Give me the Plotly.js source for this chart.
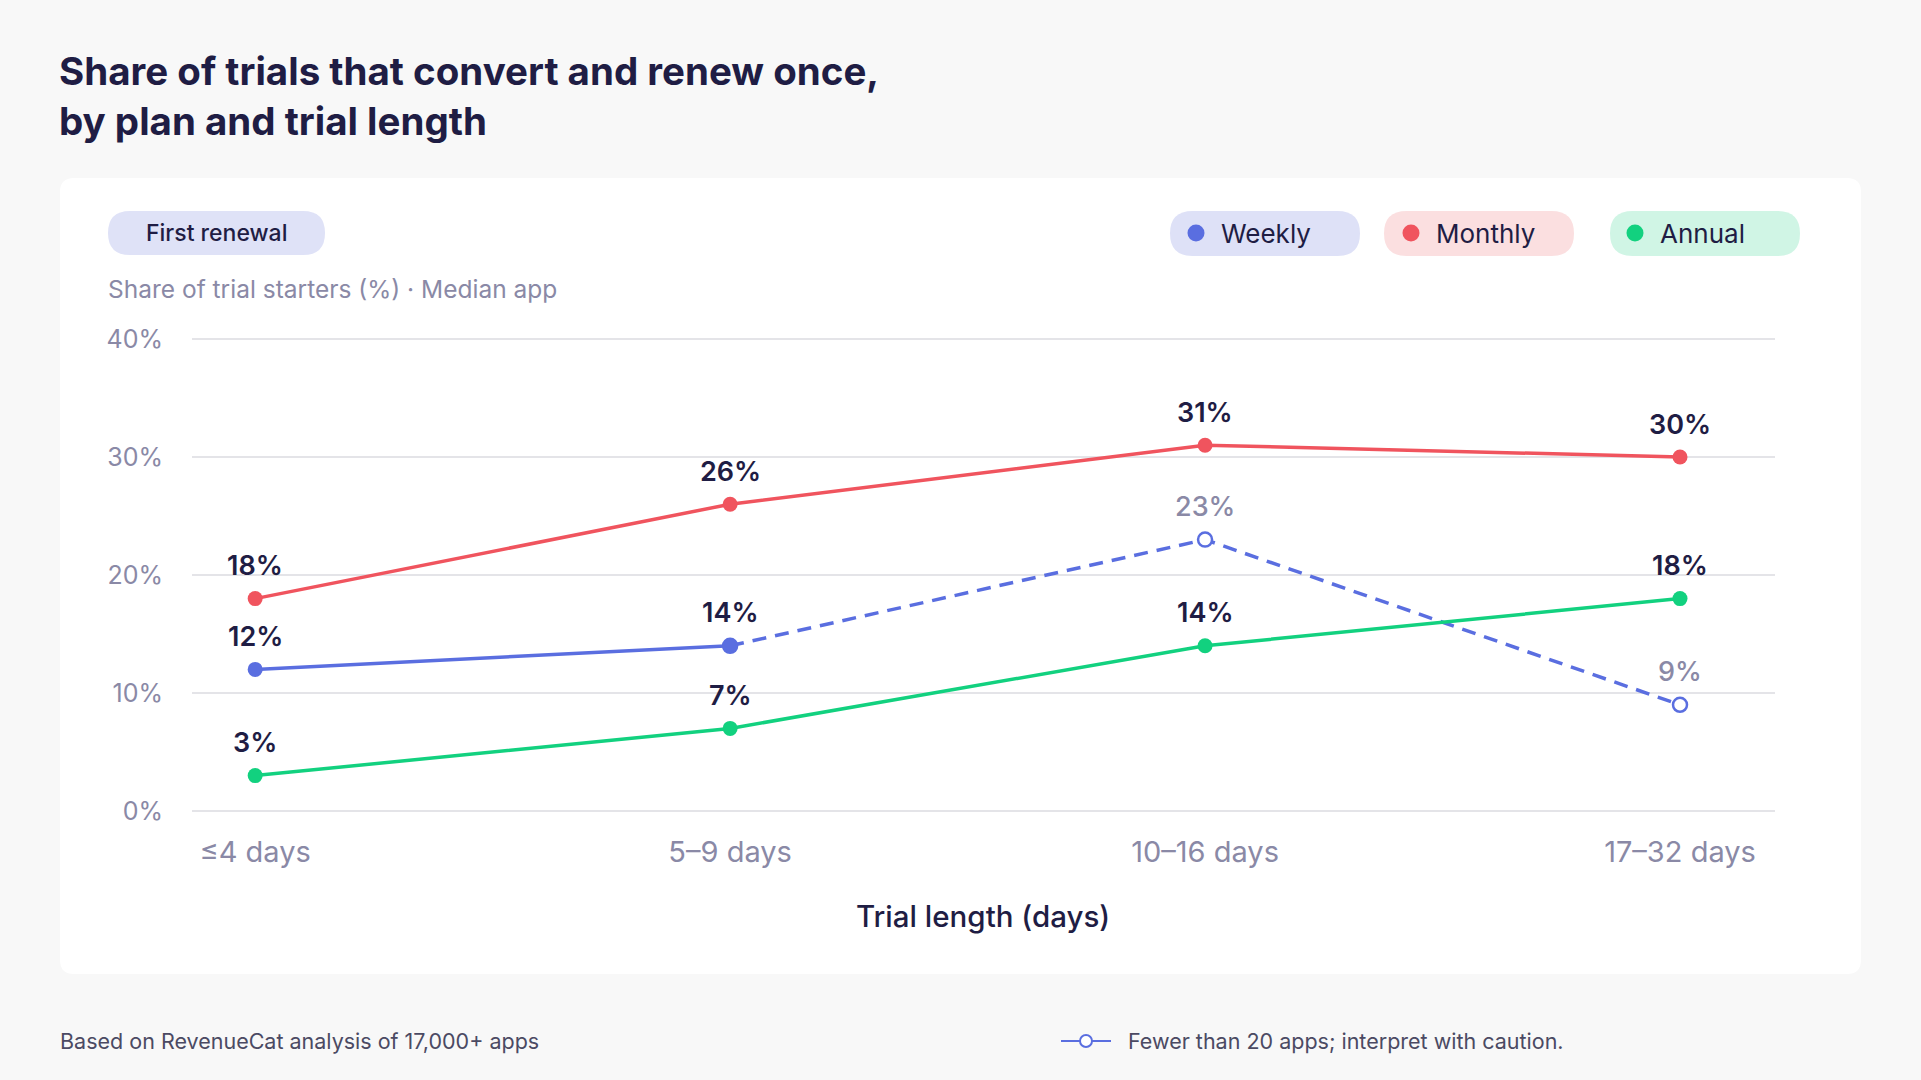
<!DOCTYPE html>
<html>
<head>
<meta charset="utf-8">
<script src="https://cdn.plot.ly/plotly-3.0.1.min.js"></script>
<style>
  html, body { margin: 0; padding: 0; background: #f8f8f8; }
  #chart { width: 1921px; height: 1080px; }
</style>
</head>
<body>
<div id="chart"></div>
<script>
// data
const trialLengths = ['≤4 days', '5–9 days', '10–16 days', '17–32 days'];
const monthly = [18, 26, 31, 30];
const annual = [3, 7, 14, 18];
const weekly = [12, 14, 23, 9];
// weekly points with fewer than 20 apps (drawn hollow + dashed)
const weeklyCaution = [false, false, true, true];
const yTicks = [0, 10, 20, 30, 40];
const yTickText = ['0%', '10%', '20%', '30%', '40%'];

const NAVY = '#1f1d44';
const GREY = '#8a89a6';
const C_WEEKLY = '#5a6ee0', C_MONTHLY = '#f0545e', C_ANNUAL = '#12d17f';
const FONT = 'Inter, "Noto Sans", sans-serif';

// plot area in pixels (a couple of px of slack top/bottom so the 0% and 40% gridlines get drawn)
const L = 192, R = 1775, T = 337, B = 813;
const px = X => (X - L) / (R - L);
const py = Y => (B - Y) / (B - T);

// rounded rectangle path in paper coords, given pixel box
function roundRect(x0, y0, x1, y1, r) {
  const p = (X, Y) => px(X) + ',' + py(Y);
  return 'M' + p(x0 + r, y0) + ' L' + p(x1 - r, y0) + ' Q' + p(x1, y0) + ' ' + p(x1, y0 + r) +
    ' L' + p(x1, y1 - r) + ' Q' + p(x1, y1) + ' ' + p(x1 - r, y1) +
    ' L' + p(x0 + r, y1) + ' Q' + p(x0, y1) + ' ' + p(x0, y1 - r) +
    ' L' + p(x0, y0 + r) + ' Q' + p(x0, y0) + ' ' + p(x0 + r, y0) + ' Z';
}
function pill(x0, y0, x1, y1, fill) {
  return { type: 'path', xref: 'paper', yref: 'paper', layer: 'below',
    path: roundRect(x0, y0, x1, y1, (y1 - y0) / 2), fillcolor: fill, line: { width: 0 } };
}
function dot(cx, cy, r, fill, lineColor, lw) {
  return { type: 'circle', xref: 'paper', yref: 'paper',
    x0: px(cx - r), x1: px(cx + r), y0: py(cy + r), y1: py(cy - r),
    fillcolor: fill, line: { color: lineColor || fill, width: lw || 0 } };
}

// weekly split into solid part and dashed caution part
const firstCaution = weeklyCaution.indexOf(true);
const wSolidX = trialLengths.slice(0, firstCaution);
const wSolidY = weekly.slice(0, firstCaution);
const wDashX = trialLengths.slice(firstCaution - 1);
const wDashY = weekly.slice(firstCaution - 1);
const wDashFill = weeklyCaution.slice(firstCaution - 1).map(c => c ? '#ffffff' : C_WEEKLY);

const traces = [
  { x: wDashX, y: wDashY, mode: 'lines+markers', line: { color: C_WEEKLY, width: 3.5, dash: '14px,9px' },
    marker: { size: 14, color: wDashFill, line: { color: C_WEEKLY, width: 2.5 } }, hoverinfo: 'skip' },
  { x: wSolidX, y: wSolidY, mode: 'lines+markers', line: { color: C_WEEKLY, width: 3.5 },
    marker: { size: 15, color: C_WEEKLY }, hoverinfo: 'skip' },
  { x: trialLengths, y: annual, mode: 'lines+markers', line: { color: C_ANNUAL, width: 3.5 },
    marker: { size: 15, color: C_ANNUAL }, hoverinfo: 'skip' },
  { x: trialLengths, y: monthly, mode: 'lines+markers', line: { color: C_MONTHLY, width: 3.5 },
    marker: { size: 15, color: C_MONTHLY }, hoverinfo: 'skip' }
];

// value labels above each point
const labels = [];
function addLabels(vals, caution) {
  vals.forEach((v, i) => labels.push({
    x: trialLengths[i], y: v, text: v + '%', showarrow: false, yshift: 33,
    font: { family: FONT, size: 27, weight: caution && caution[i] ? 500 : 600, color: caution && caution[i] ? GREY : NAVY }
  }));
}
addLabels(monthly);
addLabels(weekly, weeklyCaution);
addLabels(annual);

const ann = (X, Y, text, size, color, opts) => Object.assign({
  xref: 'paper', yref: 'paper', x: px(X), y: py(Y), text, showarrow: false,
  xanchor: 'left', yanchor: 'middle', font: { family: FONT, size, color }
}, opts || {});

const annotations = labels.concat([
  ann(57, 96, 'Share of trials that convert and renew once,<br>by plan and trial length', 38.5, NAVY,
    { font: { family: FONT, size: 38.5, color: NAVY, weight: 700 }, align: 'left' }),
  ann(216, 233, 'First renewal', 23, NAVY, { xanchor: 'center', font: { family: FONT, size: 23, color: NAVY, weight: 500 } }),
  ann(106, 289, 'Share of trial starters (%) · Median app', 24.5, GREY),
  ann(1219, 233, 'Weekly', 26, NAVY),
  ann(1434, 233, 'Monthly', 26, NAVY),
  ann(1658, 233, 'Annual', 26, NAVY),
  ann(983, 916, 'Trial length (days)', 29.5, NAVY, { xanchor: 'center', font: { family: FONT, size: 29.5, color: NAVY, weight: 500 } }),
  ann(58, 1041, 'Based on RevenueCat analysis of 17,000+ apps', 21.5, '#4b4a63'),
  ann(1126, 1041, 'Fewer than 20 apps; interpret with caution.', 21.5, '#4b4a63')
]);

const shapes = [
  { type: 'path', xref: 'paper', yref: 'paper', layer: 'below', path: roundRect(60, 178, 1861, 974, 14),
    fillcolor: '#ffffff', line: { width: 0 } },
  pill(108, 211, 325, 255, '#dfe2f7'),
  pill(1170, 211, 1360, 256, '#dee1f7'),
  pill(1384, 211, 1574, 256, '#fbdfe0'),
  pill(1610, 211, 1800, 256, '#d0f5e5'),
  dot(1196, 233, 8.5, C_WEEKLY),
  dot(1411, 233, 8.5, C_MONTHLY),
  dot(1635, 233, 8.5, C_ANNUAL),
  { type: 'line', xref: 'paper', yref: 'paper', x0: px(1061), x1: px(1111), y0: py(1041), y1: py(1041),
    line: { color: C_WEEKLY, width: 2 } },
  dot(1086, 1041, 6, '#ffffff', C_WEEKLY, 2)
];

const layout = {
  width: 1921, height: 1080,
  margin: { l: L, r: 1921 - R, t: T, b: 1080 - B },
  paper_bgcolor: '#f8f8f8', plot_bgcolor: 'rgba(0,0,0,0)',
  showlegend: false,
  font: { family: FONT, color: NAVY },
  xaxis: {
    type: 'category', categoryorder: 'array', categoryarray: trialLengths,
    range: [-0.133, 3.2], showgrid: false, zeroline: false, showline: false,
    ticks: '', ticklabelstandoff: 19, tickfont: { family: FONT, size: 29, color: GREY },
    fixedrange: true
  },
  yaxis: {
    range: [-0.17, 40.17], tickvals: yTicks, ticktext: yTickText, showgrid: true, gridcolor: '#e4e4e8', gridwidth: 1.5,
    zeroline: false, showline: false, ticks: '', ticklabelstandoff: 28,
    tickfont: { family: FONT, size: 25, color: GREY }, fixedrange: true
  },
  shapes, annotations
};

Plotly.newPlot('chart', traces, layout, { displayModeBar: false, staticPlot: true });
</script>
</body>
</html>
